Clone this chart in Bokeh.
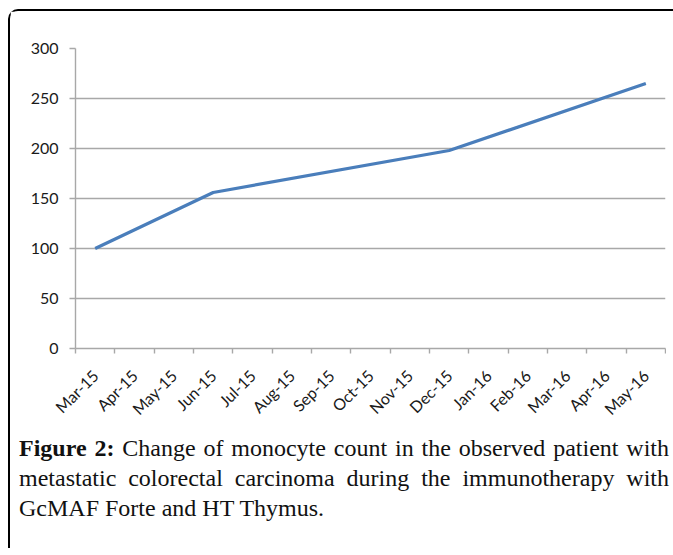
import math
from bokeh.plotting import figure
from bokeh.models import FixedTicker, Range1d, Div
from bokeh.layouts import column
from bokeh.embed import file_html
from bokeh.resources import INLINE

# ---- data ----
months = ["Mar-15", "Apr-15", "May-15", "Jun-15", "Jul-15", "Aug-15", "Sep-15",
          "Oct-15", "Nov-15", "Dec-15", "Jan-16", "Feb-16", "Mar-16", "Apr-16", "May-16"]
monocytes = [100, None, None, 156, None, None, None, None, None, 198,
             None, None, None, None, 265]
y_ticks = [0, 50, 100, 150, 200, 250, 300]

caption_bold = "Figure 2:"
caption_lines = [
    "Change of monocyte count in the observed patient with",
    "metastatic colorectal carcinoma during the immunotherapy with",
    "GcMAF Forte and HT Thymus.",
]

# ---- chart ----
n = len(months)
centers = [i + 0.5 for i in range(n)]
xs = [centers[i] for i, v in enumerate(monocytes) if v is not None]
ys = [v for v in monocytes if v is not None]

p = figure(width=656, height=422, x_range=Range1d(0, n), y_range=Range1d(0, 300),
           output_backend="svg", toolbar_location=None,
           min_border_left=65, min_border_right=1, min_border_top=37, min_border_bottom=85)
p.outline_line_color = None
p.background_fill_color = "white"
p.border_fill_color = "white"

p.line(xs, ys, line_color="#4A7EBB", line_width=3.2)

grid_col = "#A8A8A8"
p.xgrid.visible = False
p.ygrid.ticker = FixedTicker(ticks=y_ticks)
p.ygrid.grid_line_color = grid_col
p.ygrid.grid_line_width = 1.4

p.yaxis.ticker = FixedTicker(ticks=y_ticks)
p.yaxis.axis_line_color = grid_col
p.yaxis.axis_line_width = 1.4
p.yaxis.major_tick_line_color = grid_col
p.yaxis.major_tick_line_width = 1.4
p.yaxis.major_tick_out = 6
p.yaxis.major_tick_in = 0
p.yaxis.minor_tick_line_color = None
p.yaxis.major_label_standoff = 11

p.xaxis.ticker = FixedTicker(ticks=centers, minor_ticks=list(range(n + 1)))
p.xaxis.major_label_overrides = {c: m for c, m in zip(centers, months)}
p.xaxis.axis_line_color = grid_col
p.xaxis.axis_line_width = 1.4
p.xaxis.major_tick_line_color = None
p.xaxis.major_tick_out = 0
p.xaxis.major_tick_in = 0
p.xaxis.minor_tick_line_color = grid_col
p.xaxis.minor_tick_line_width = 1.4
p.xaxis.minor_tick_out = 5
p.xaxis.minor_tick_in = 0
p.xaxis.major_label_orientation = math.pi / 4
p.xaxis.major_label_standoff = 19

for ax in (p.xaxis, p.yaxis):
    ax.major_label_text_font = "Lato"
    ax.major_label_text_font_size = "16px"
    ax.major_label_text_color = "#1a1a1a"

# ---- caption ----
just = "text-align:justify;text-align-last:justify;width:650px;"
html = (
    "<div style=\"font-family:'Liberation Serif';font-size:24px;line-height:30px;"
    "color:#111;width:650px;\">"
    f"<div style='{just}'><b>{caption_bold}</b> {caption_lines[0]}</div>"
    f"<div style='{just}'>{caption_lines[1]}</div>"
    f"<div>{caption_lines[2]}</div>"
    "</div>"
)
cap = Div(text=html, width=654, height=115, margin=(0, 0, 0, 9))

layout = column(p, cap, margin=(9, 0, 0, 8),
                styles={"border-top": "2px solid #000", "border-left": "2px solid #000",
                        "border-top-left-radius": "10px"})

open("out.html", "w").write(file_html(layout, INLINE))
